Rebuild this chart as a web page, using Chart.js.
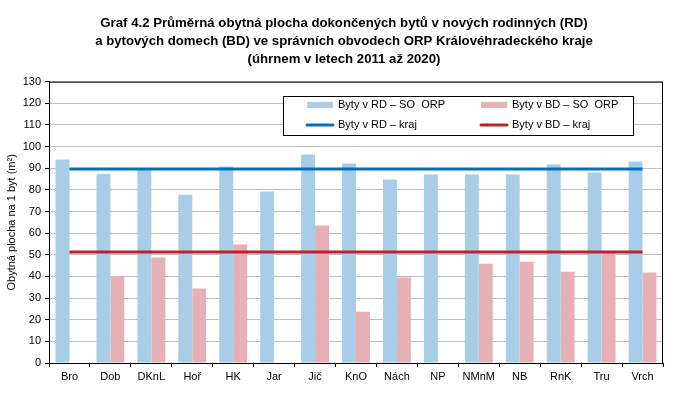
<!DOCTYPE html>
<html>
<head>
<meta charset="utf-8">
<script src="https://cdn.jsdelivr.net/npm/chart.js@4.4.1/dist/chart.umd.min.js"></script>
<style>
  body { margin: 0; background: #fff; }
  #wrap { width: 688px; height: 396px; }
</style>
</head>
<body>
<div id="wrap"><canvas id="chart"></canvas></div>
<script>
// ORP districts
var orpLabels = ["Bro", "Dob", "DKnL", "Hoř", "HK", "Jar", "Jič", "KnO", "Nách", "NP", "NMnM", "NB", "RnK", "Tru", "Vrch"];
// average floor area per dwelling (m2), 2011-2020
var rdOrp = [94.0, 87.5, 89.5, 77.8, 90.8, 79.2, 96.3, 92.2, 84.8, 87.1, 87.1, 87.1, 91.7, 88.0, 93.1];
var bdOrp = [null, 40.2, 48.7, 34.4, 54.7, null, 63.5, 23.7, 39.5, null, 45.9, 46.8, 42.2, 50.9, 41.8];
// region (kraj) average
var rdKraj = [89.7, 89.7, 89.7, 89.7, 89.7, 89.7, 89.7, 89.7, 89.7, 89.7, 89.7, 89.7, 89.7, 89.7, 89.7];
var bdKraj = [51.3, 51.3, 51.3, 51.3, 51.3, 51.3, 51.3, 51.3, 51.3, 51.3, 51.3, 51.3, 51.3, 51.3, 51.3];

var titleLines = [
    "Graf 4.2 Průměrná obytná plocha dokončených bytů v nových rodinných (RD)",
    "a bytových domech (BD) ve správních obvodech ORP Královéhradeckého kraje",
    "(úhrnem v letech 2011 až 2020)"
];

var FONT = "'Liberation Sans', Arial, sans-serif";

// frame around plot area + legend box in 2x2 grid
var framePlugin = {
    id: "frame",
    afterDatasetsDraw: function (chart) {
        var ctx = chart.ctx;
        var a = chart.chartArea;
        ctx.save();
        ctx.strokeStyle = "#000";
        ctx.lineWidth = 1;
        ctx.strokeRect(a.left + 0.5, a.top + 0.5, a.right - a.left - 1, a.bottom - a.top);

        // legend
        var bx = 283, by = 96, bw = 350, bh = 39;
        ctx.fillStyle = "#fff";
        ctx.fillRect(bx, by, bw, bh);
        ctx.strokeRect(bx + 0.5, by + 0.5, bw, bh);
        ctx.font = "11px " + FONT;
        ctx.textBaseline = "middle";
        chart.data.datasets.forEach(function (ds, i) {
            var col = i % 2, row = Math.floor(i / 2);
            var sx = 307 + col * 174;
            var sy = 105 + row * 20;
            if (ds.type === "line") {
                ctx.strokeStyle = ds.borderColor;
                ctx.lineWidth = 3;
                ctx.lineCap = "round";
                ctx.beginPath();
                ctx.moveTo(sx, sy);
                ctx.lineTo(sx + 26, sy);
                ctx.stroke();
            } else {
                ctx.fillStyle = ds.backgroundColor;
                ctx.fillRect(sx, sy - 3, 26, 6);
            }
            ctx.fillStyle = "#000";
            ctx.fillText(ds.label, sx + 31, sy);
        });
        ctx.restore();
    }
};

new Chart(document.getElementById("chart"), {
    type: "bar",
    data: {
        labels: orpLabels,
        datasets: [
            { label: "Byty v RD – SO  ORP", data: rdOrp, backgroundColor: "#A7CDE7", order: 2, barPercentage: 1, categoryPercentage: 0.68 },
            { label: "Byty v BD – SO  ORP", data: bdOrp, backgroundColor: "#E6B0B4", order: 2, barPercentage: 1, categoryPercentage: 0.68 },
            { label: "Byty v RD – kraj", type: "line", data: rdKraj, borderColor: "#0070C0", borderWidth: 3, pointRadius: 0, order: 1 },
            { label: "Byty v BD – kraj", type: "line", data: bdKraj, borderColor: "#C0202A", borderWidth: 3, pointRadius: 0, order: 1 }
        ]
    },
    options: {
        responsive: true,
        maintainAspectRatio: false,
        animation: false,
        layout: { padding: { left: 0, right: 0, top: 0, bottom: 0 } },
        plugins: {
            legend: { display: false },
            tooltip: { enabled: false },
            title: {
                display: true,
                text: titleLines,
                color: "#000",
                font: { family: FONT, size: 13.2, weight: "bold", lineHeight: 1.33 },
                padding: { top: 15, bottom: 14 }
            }
        },
        scales: {
            x: {
                offset: true,
                grid: { display: true, offset: true, drawOnChartArea: false, tickLength: 4, tickColor: "#000" },
                border: { display: true, color: "#000" },
                ticks: { color: "#000", font: { family: FONT, size: 11 }, padding: 3, maxRotation: 0, autoSkip: false },
                afterFit: function (s) { s.height = 33; }
            },
            y: {
                min: 0,
                max: 130,
                ticks: { stepSize: 10, color: "#000", font: { family: FONT, size: 11 }, padding: 4 },
                grid: { color: "#BFBFBF", tickLength: 4, tickColor: "#000" },
                border: { display: true, color: "#000" },
                title: {
                    display: true,
                    text: "Obytná plocha na 1 byt (m²)",
                    color: "#000",
                    font: { family: FONT, size: 11 },
                    padding: { top: 5, bottom: 0 }
                },
                afterFit: function (s) { s.width = 49; }
            },
            // empty right margin so the title stays centred on the page
            yRight: {
                position: "right",
                min: 0,
                max: 130,
                ticks: { display: false },
                grid: { drawOnChartArea: false, drawTicks: false },
                border: { display: false },
                afterFit: function (s) { s.width = 25; }
            }
        }
    },
    plugins: [framePlugin]
});
</script>
</body>
</html>
